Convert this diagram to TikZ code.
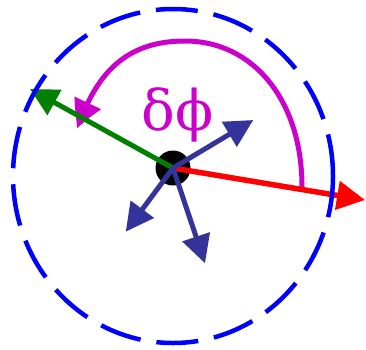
\documentclass[tikz,border=0pt]{standalone}
\usepackage{fontspec}
\newfontfamily\greekserif{DejaVu Serif}
\usetikzlibrary{arrows.meta,bending}
\definecolor{cmag}{RGB}{204,0,204}
\definecolor{cblu}{RGB}{51,51,153}
\definecolor{cgrn}{RGB}{0,128,0}
\definecolor{cred}{RGB}{255,0,0}
\definecolor{cdash}{RGB}{0,0,255}
\tikzset{
  vec/.style={line width=5pt, -{Triangle[length=28pt,width=28pt]}},
  ring/.style={draw=cdash, line width=4.5pt, dash pattern=on 42pt off 16pt},
}
\begin{document}
\begin{tikzpicture}[x=1pt,y=-1pt]
\useasboundingbox (0,0) rectangle (366,349);
% dot
\fill (173,168) circle[radius=17.5];
\coordinate (c) at (173,168);
% magenta arc
\coordinate (ms) at (302,187);
\coordinate (mt) at (185,41);
\coordinate (me) at (77.3,128.3);
\draw[cmag, line width=5pt, -{Triangle[length=28pt,width=28pt,bend]}]
  (ms) .. controls (302,100) and (253,41) .. (mt)
       .. controls (122,41) and (95,78) .. (me);
% text
\node[cmag, anchor=base, inner sep=0pt, font=\greekserif\fontsize{56}{56}\selectfont] (lbl) at (177.7,130) {δϕ};
% arrows
\coordinate (tg) at (30,89);
\coordinate (tr) at (365,200);
\coordinate (tb1) at (253.3,120);
\coordinate (tb2) at (125.7,231.7);
\coordinate (tb3) at (205,263.3);
\draw[vec, cgrn] (c) -- (tg);
\draw[vec, cred, line width=5.5pt] (c) -- (tr);
\draw[vec, cblu] (c) -- (tb1);
\draw[vec, cblu] (c) -- (tb2);
\draw[vec, cblu] (c) -- (tb3);
% dashed ring
\draw[ring] (333,176) arc[start angle=0, end angle=-360, x radius=160, y radius=167];
\end{tikzpicture}
\end{document}
